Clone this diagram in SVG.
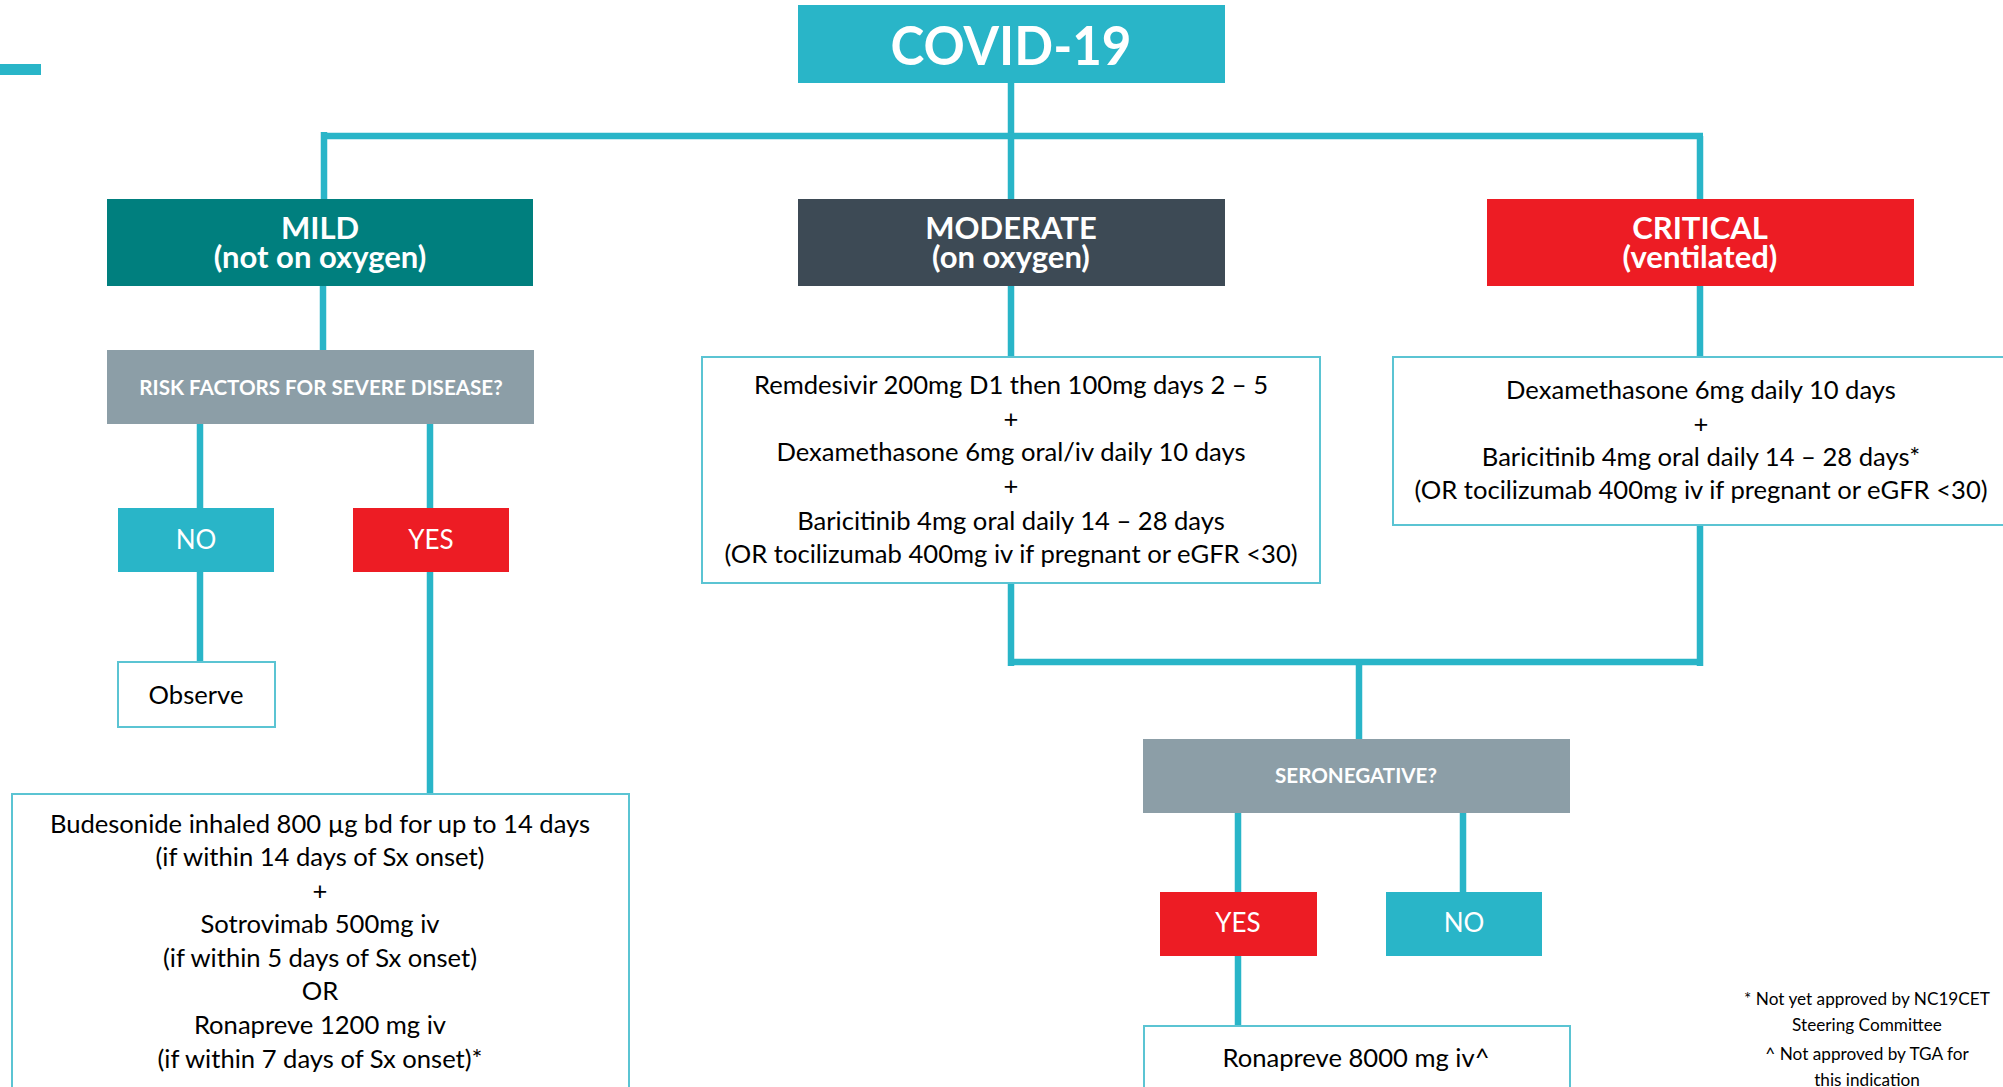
<svg xmlns="http://www.w3.org/2000/svg" width="2003" height="1087" viewBox="0 0 2003 1087">
<style>
  text { font-family: Lato, "Liberation Sans", sans-serif; text-anchor: middle; }
  .hdr { font-weight: bold; font-size: 31px; fill: #ffffff; }
  .q { font-weight: bold; font-size: 20.6px; fill: #ffffff; }
  .yn { font-size: 26px; fill: #ffffff; }
  .body { font-size: 25.6px; fill: #000000; }
  .note { font-size: 17.2px; fill: #000000; }
  .teal { fill: #29B5C8; }
  .red { fill: #ED1C24; }
  .grey { fill: #8C9EA7; }
  .box { fill: #ffffff; stroke: #5BC4D3; stroke-width: 2; }
  .conn { fill: none; stroke: #29B5C8; stroke-width: 6.5; stroke-linecap: butt; }
</style>
<rect x="0" y="0" width="2003" height="1087" fill="#ffffff"/>
<rect x="0" y="64" width="41" height="11" fill="#29B5C8"/>

<g id="connectors">
  <path class="conn" d="M1011 83 V136"/>
  <path class="conn" d="M324 132 V199 M321 136 H1703 M1011 136 V199 M1700 136 V199"/>
  <path class="conn" d="M323 286 V350"/>
  <path class="conn" d="M200 424 V508 M430 424 V508"/>
  <path class="conn" d="M200 572 V661"/>
  <path class="conn" d="M430 572 V793"/>
  <path class="conn" d="M1011 286 V356 M1700 286 V356"/>
  <path class="conn" d="M1011 583 V666 M1008 662 H1703 M1700 525 V666"/>
  <path class="conn" d="M1359 662 V739"/>
  <path class="conn" d="M1238 813 V892 M1463 813 V892"/>
  <path class="conn" d="M1238 956 V1025"/>
</g>

<g id="covid">
  <rect class="teal" x="798" y="5" width="427" height="78"/>
  <text x="1011" y="65" style="font-weight:bold;font-size:54px;fill:#fff" textLength="241" lengthAdjust="spacingAndGlyphs">COVID-19</text>
</g>

<g id="mild">
  <rect x="107" y="199" width="426" height="87" fill="#007F7E"/>
  <text class="hdr" x="320" y="239">MILD</text>
  <text class="hdr" x="320" y="268">(not on oxygen)</text>
</g>

<g id="moderate">
  <rect x="798" y="199" width="427" height="87" fill="#3D4A55"/>
  <text class="hdr" x="1011" y="239">MODERATE</text>
  <text class="hdr" x="1011" y="268">(on oxygen)</text>
</g>

<g id="critical">
  <rect class="red" x="1487" y="199" width="427" height="87"/>
  <text class="hdr" x="1700" y="239">CRITICAL</text>
  <text class="hdr" x="1700" y="268">(ventilated)</text>
</g>

<g id="risk">
  <rect class="grey" x="107" y="350" width="427" height="74"/>
  <text class="q" x="321" y="395">RISK FACTORS FOR SEVERE DISEASE?</text>
</g>

<g id="mild-no">
  <rect class="teal" x="118" y="508" width="156" height="64"/>
  <text class="yn" x="196" y="549">NO</text>
</g>

<g id="mild-yes">
  <rect class="red" x="353" y="508" width="156" height="64"/>
  <text class="yn" x="431" y="549">YES</text>
</g>

<g id="observe">
  <rect class="box" x="118" y="662" width="157" height="65"/>
  <text class="body" x="196" y="704">Observe</text>
</g>

<g id="mild-treatment">
  <rect class="box" x="12" y="794" width="617" height="310"/>
  <text class="body" x="320" y="833">Budesonide inhaled 800 µg bd for up to 14 days</text>
  <text class="body" x="320" y="866">(if within 14 days of Sx onset)</text>
  <text class="body" x="320" y="900">+</text>
  <text class="body" x="320" y="933">Sotrovimab 500mg iv</text>
  <text class="body" x="320" y="967">(if within 5 days of Sx onset)</text>
  <text class="body" x="320" y="1000">OR</text>
  <text class="body" x="320" y="1034">Ronapreve 1200 mg iv</text>
  <text class="body" x="320" y="1068">(if within 7 days of Sx onset)*</text>
</g>

<g id="moderate-treatment">
  <rect class="box" x="702" y="357" width="618" height="226"/>
  <text class="body" x="1011" y="394">Remdesivir 200mg D1 then 100mg days 2 – 5</text>
  <text class="body" x="1011" y="428">+</text>
  <text class="body" x="1011" y="461">Dexamethasone 6mg oral/iv daily 10 days</text>
  <text class="body" x="1011" y="495">+</text>
  <text class="body" x="1011" y="530">Baricitinib 4mg oral daily 14 – 28 days</text>
  <text class="body" x="1011" y="563">(OR tocilizumab 400mg iv if pregnant or eGFR &lt;30)</text>
</g>

<g id="critical-treatment">
  <rect class="box" x="1393" y="357" width="630" height="168"/>
  <text class="body" x="1701" y="399">Dexamethasone 6mg daily 10 days</text>
  <text class="body" x="1701" y="433">+</text>
  <text class="body" x="1701" y="466">Baricitinib 4mg oral daily 14 – 28 days*</text>
  <text class="body" x="1701" y="499">(OR tocilizumab 400mg iv if pregnant or eGFR &lt;30)</text>
</g>

<g id="seronegative">
  <rect class="grey" x="1143" y="739" width="427" height="74"/>
  <text class="q" x="1356" y="783">SERONEGATIVE?</text>
</g>

<g id="sero-yes">
  <rect class="red" x="1160" y="892" width="157" height="64"/>
  <text class="yn" x="1238" y="932">YES</text>
</g>

<g id="sero-no">
  <rect class="teal" x="1386" y="892" width="156" height="64"/>
  <text class="yn" x="1464" y="932">NO</text>
</g>

<g id="ronapreve">
  <rect class="box" x="1144" y="1026" width="426" height="80"/>
  <text class="body" x="1356" y="1067">Ronapreve 8000 mg iv^</text>
</g>

<g id="footnotes">
  <text class="note" x="1867" y="1005">* Not yet approved by NC19CET</text>
  <text class="note" x="1867" y="1031">Steering Committee</text>
  <text class="note" x="1867" y="1060">^ Not approved by TGA for</text>
  <text class="note" x="1867" y="1086">this indication</text>
</g>
</svg>
